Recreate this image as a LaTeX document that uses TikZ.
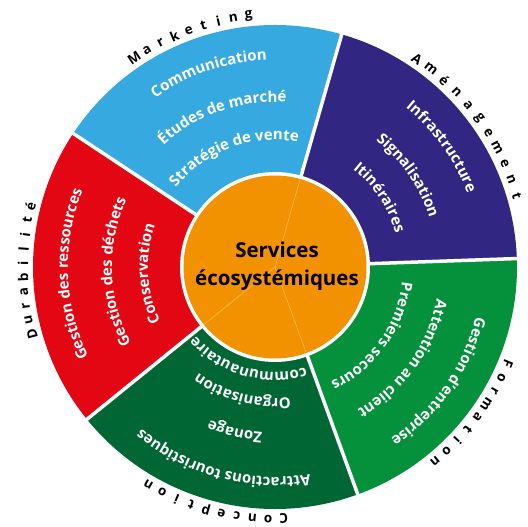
\documentclass[tikz,border=0pt]{standalone}
\usepackage{fontspec}
\setmainfont{Open Sans}
\usetikzlibrary{decorations.text}

\definecolor{mkblue}{HTML}{36A9E1}
\definecolor{ampurple}{HTML}{312783}
\definecolor{fogreen}{HTML}{05903B}
\definecolor{cogreen}{HTML}{006634}
\definecolor{dured}{HTML}{E30613}
\definecolor{huborange}{HTML}{F39200}

\newcommand\innerfont{\fontsize{15}{18}\selectfont\bfseries}

% spaced letters of a theme name, set clockwise round the wheel
\newcommand\ringword[4]{%
  \foreach \ch [count=\i from 0] in {#4}{%
    \pgfmathsetmacro\ang{#2-#3*\i}%
    \node[ringletter, rotate=\ang-90] (#1-\i) at (\ang:252) {\ch};
  }}

% one line of white text bent along a clockwise arc
\newcommand\arcline[3]{%
  \path[decorate, decoration={text along path, text color=white,
      text align=center, text={|\innerfont|#3}}]
    ({#1+75}:#2) arc[start angle={#1+75}, end angle={#1-75}, radius=#2];}

\begin{document}
\begin{tikzpicture}[x=1pt, y=1pt,
  ringletter/.style={font=\fontsize{13.5}{16}\selectfont\bfseries, inner sep=0pt}]
\useasboundingbox (-275,-260) rectangle (253,267);

% the five theme sectors
\fill[ampurple] (0,0) -- (2:242) arc[start angle=2, end angle=74, radius=242] -- cycle;
\fill[mkblue] (0,0) -- (74:242) arc[start angle=74, end angle=146.5, radius=242] -- cycle;
\fill[dured] (0,0) -- (146.5:242) arc[start angle=146.5, end angle=219, radius=242] -- cycle;
\fill[cogreen] (0,0) -- (219:242) arc[start angle=219, end angle=290, radius=242] -- cycle;
\fill[fogreen] (0,0) -- (290:242) arc[start angle=290, end angle=362, radius=242] -- cycle;

% white gaps between sectors
\foreach \a in {2,74,146.5,219,290}
  \draw[white, line width=3.5pt] (0,0) -- (\a:246);

% hub
\fill[white] (0,0) circle (95);
\fill[huborange] (0,0) circle (91.5);
\foreach \a in {74,219,290}
  \draw[white, opacity=0.45, line width=0.4pt] (0,0) -- (\a:91.5);
\node[align=center, font=\fontsize{20.5}{28}\selectfont\bfseries, text=black]
  (hub) at (2,1) {Services\\écosystémiques};

% theme names round the rim
\ringword{mk}{124}{3.5}{M,a,r,k,e,t,i,n,g}
\ringword{am}{55.7}{3.93}{A,m,é,n,a,g,e,m,e,n,t}
\ringword{fo}{-22.5}{3.51}{F,o,r,m,a,t,i,o,n}
\ringword{co}{272}{3.57}{C,o,n,c,e,p,t,i,o,n}
\ringword{du}{195.4}{3.26}{D,u,r,a,b,i,l,i,t,é}

% Marketing
\arcline{108.8}{207}{Communication}
\arcline{109.3}{165}{Études de marché}
\arcline{110.4}{127}{Stratégie de vente}
% Aménagement
\arcline{35.8}{206}{Infrastructure}
\arcline{34.5}{162}{Signalisation}
\arcline{33.5}{125}{Itinéraires}
% Durabilité
\arcline{182}{207}{Gestion des ressources}
\arcline{181.8}{163}{Gestion des déchets}
\arcline{183}{127}{Conservation}
% Formation
\arcline{-35}{207}{Gestion d'entreprise}
\arcline{-35.6}{165}{Attention au client}
\arcline{-35.5}{128}{Premiers secours}
% Conception
\arcline{255}{210}{Attractions touristiques}
\arcline{256.3}{166}{Zonage}
\arcline{255.4}{131}{Organisation}
\arcline{253.9}{105}{communautaire}
\end{tikzpicture}
\end{document}
